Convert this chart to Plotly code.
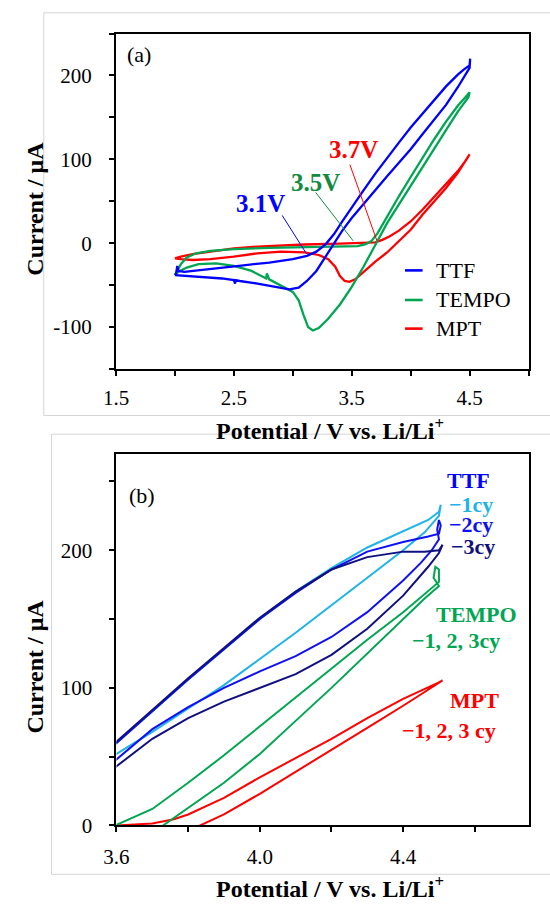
import plotly.graph_objects as go

W, H = 550, 910
FONT = "Liberation Serif"


def px(x):
    return x / W


def py(y):
    return 1 - y / H


# ---------------- Panel (a) data: potential (V) / current (uA) ----------------
ttf_a_v = [2.00, 2.10, 2.25, 2.40, 2.50, 2.51, 2.515, 2.55, 2.70, 2.85, 2.97, 3.05, 3.12, 3.20, 3.28, 3.35,
           3.42, 3.50, 3.60, 3.70, 3.80, 3.90, 4.00, 4.10, 4.20, 4.30, 4.40, 4.47, 4.50, 4.505, 4.50,
           4.45, 4.40, 4.30, 4.20, 4.10, 4.00, 3.90, 3.80, 3.70, 3.60, 3.50, 3.42, 3.35, 3.28, 3.20,
           3.12, 3.00, 2.80, 2.60, 2.40, 2.20, 2.08, 2.03, 2.02, 2.01, 2.00]
ttf_a_i = [-38, -39, -40, -42, -44, -48, -44, -45, -48, -52, -55, -53, -45, -33, -16, 0,
           15, 30, 47, 63, 80, 96, 112, 130, 148, 165, 186, 203, 209, 220, 212,
           207, 201, 187, 171, 155, 138, 120, 102, 83, 63, 43, 26, 11, -1, -10,
           -15, -19, -23, -26, -29, -32, -34, -33, -27, -36, -38]

tempo_a_v = [2.00, 2.05, 2.10, 2.18, 2.30, 2.50, 2.80, 3.10, 3.40, 3.55, 3.62, 3.67, 3.72, 3.80, 3.90,
             4.00, 4.10, 4.20, 4.30, 4.40, 4.47, 4.50, 4.49, 4.40, 4.30, 4.20, 4.10, 4.00, 3.90, 3.80,
             3.70, 3.60, 3.50, 3.40, 3.30, 3.22, 3.17, 3.13, 3.09, 3.05, 3.00, 2.92, 2.80, 2.78, 2.775,
             2.65, 2.50, 2.35, 2.20, 2.10, 2.03, 2.00]
tempo_a_i = [-38, -25, -17, -12, -9, -7, -5.5, -4.5, -4, -3.5, -1, 3, 12, 32, 56,
             79, 102, 124, 145, 164, 175, 180, 174, 157, 135, 113, 91, 69, 47, 24,
             -2, -28, -52, -73, -90, -101, -104, -100, -85, -68, -58, -52, -43, -36, -42,
             -33, -27, -24, -25, -29, -34, -38]

mpt_a_v = [2.00, 2.05, 2.15, 2.30, 2.50, 2.70, 2.90, 3.10, 3.40, 3.60, 3.70, 3.76, 3.82, 3.90, 4.00,
           4.10, 4.20, 4.30, 4.40, 4.47, 4.50, 4.48, 4.40, 4.30, 4.20, 4.10, 4.00, 3.90, 3.80, 3.70,
           3.60, 3.53, 3.48, 3.44, 3.40, 3.36, 3.30, 3.22, 3.10, 2.90, 2.70, 2.50, 2.30, 2.15, 2.05, 2.00]
mpt_a_i = [-18, -16, -13, -10, -6, -4, -2.5, -1.5, -0.5, 0, 1, 4, 8, 15, 26,
           40, 55, 70, 86, 99, 106, 101, 84, 66, 50, 34, 16, 2, -11, -22,
           -34, -43, -46, -45, -39, -28, -19, -14, -11, -10, -12, -16, -19, -20, -19, -18]

# ---------------- Panel (b) data ----------------
ttf1_b_v = [3.58, 3.60, 3.70, 3.80, 3.90, 4.00, 4.10, 4.20, 4.30, 4.40, 4.47, 4.50, 4.505, 4.50,
            4.49, 4.46, 4.40, 4.30, 4.20, 4.10, 4.00, 3.90, 3.80, 3.70, 3.60, 3.58]
ttf1_b_i = [55, 60, 83, 106, 128, 150, 170, 187, 202, 214, 222, 228, 233, 225,
            222, 213, 200, 180, 160, 140, 121, 102, 85, 68, 52, 49]

ttf2_b_v = [3.58, 3.60, 3.70, 3.80, 3.90, 4.00, 4.10, 4.20, 4.30, 4.40, 4.47, 4.50, 4.505, 4.50, 4.495,
            4.50, 4.48, 4.45, 4.40, 4.30, 4.20, 4.10, 4.00, 3.90, 3.80, 3.70, 3.60, 3.58]
ttf2_b_i = [55, 60, 83, 106, 128, 150, 169, 186, 199, 206, 210, 212, 218, 222, 215,
            208, 200, 191, 178, 155, 137, 123, 112, 100, 86, 70, 48, 44]

ttf3_b_v = [3.58, 3.60, 3.70, 3.80, 3.90, 4.00, 4.10, 4.20, 4.30, 4.40, 4.46, 4.50, 4.51,
            4.50, 4.47, 4.40, 4.30, 4.20, 4.10, 4.00, 3.90, 3.80, 3.70, 3.60, 3.58]
ttf3_b_i = [56, 61, 84, 107, 129, 151, 170, 186, 195, 199, 199, 200, 204,
            198, 188, 167, 143, 124, 110, 100, 90, 78, 63, 43, 39]

tempo_b_v = [3.58, 3.60, 3.70, 3.80, 3.90, 4.00, 4.10, 4.20, 4.30, 4.40, 4.46, 4.50, 4.50, 4.49, 4.485,
             4.50, 4.46, 4.40, 4.30, 4.20, 4.10, 4.00, 3.90, 3.80, 3.73, 3.70]
tempo_b_i = [-3, 0.5, 12, 31, 51, 72, 93, 114, 135, 155, 168, 177, 186, 188, 180,
             174, 165, 150, 125, 100, 76, 52, 31, 13, 0, -7]

mpt_b_v = [3.58, 3.60, 3.70, 3.76, 3.80, 3.90, 4.00, 4.10, 4.20, 4.30, 4.40, 4.50, 4.51,
           4.46, 4.40, 4.30, 4.20, 4.10, 4.00, 3.90, 3.83, 3.80]
mpt_b_i = [0, 0, 1.5, 4.5, 8, 20, 35, 49, 63, 78, 92, 104, 105.5,
           97, 87, 71, 55, 39, 23, 8, 0, -4]

# colours
BLUE, GREEN, RED = "#0000FF", "#00A651", "#FF0000"
CYAN, BLUE2, NAVY = "#1FB3EA", "#1010F5", "#101080"
DKGREEN = "#138A3E"

fig = go.Figure()

for v, i, c in [(mpt_a_v, mpt_a_i, RED), (tempo_a_v, tempo_a_i, GREEN), (ttf_a_v, ttf_a_i, BLUE)]:
    fig.add_trace(go.Scatter(x=v, y=i, mode="lines", line=dict(color=c, width=2.3),
                             xaxis="x", yaxis="y", showlegend=False))

for v, i, c in [(mpt_b_v, mpt_b_i, RED), (tempo_b_v, tempo_b_i, GREEN), (ttf1_b_v, ttf1_b_i, CYAN),
                (ttf2_b_v, ttf2_b_i, BLUE2), (ttf3_b_v, ttf3_b_i, NAVY)]:
    fig.add_trace(go.Scatter(x=v, y=i, mode="lines", line=dict(color=c, width=2),
                             xaxis="x2", yaxis="y2", showlegend=False))

tickfont = dict(family=FONT, size=21, color="black")
common = dict(showline=True, linewidth=2, linecolor="black", mirror=True, ticks="outside",
              ticklen=5, tickwidth=1.5, tickcolor="black", showgrid=False, zeroline=False,
              tickfont=tickfont, fixedrange=True)
minor_common = dict(ticks="outside", ticklen=5, tickwidth=1.5, tickcolor="black", showgrid=False)

fig.update_layout(
    width=W, height=H, margin=dict(l=0, r=0, t=0, b=0),
    paper_bgcolor="white", plot_bgcolor="white",
    xaxis=dict(domain=[px(105.5), px(528)], range=[1.5, 5.0], anchor="y",
               tickvals=[1.5, 2.5, 3.5, 4.5], ticktext=["1.5", "2.5", "3.5", "4.5"],
               ticklabelstandoff=4,
               minor=dict(tickvals=[2.0, 3.0, 4.0, 5.0], **minor_common), **common),
    yaxis=dict(domain=[py(374), py(34)], range=[-150, 250], anchor="x",
               tickvals=[-100, 0, 100, 200], ticktext=["-100", "0", "100", "200"],
               ticklabelstandoff=13,
               minor=dict(tickvals=[-150, -50, 50, 150, 250], **minor_common), **common),
    xaxis2=dict(domain=[px(106), px(528)], range=[3.6, 4.75], anchor="y2",
                tickvals=[3.6, 4.0, 4.4], ticktext=["3.6", "4.0", "4.4"],
                ticklabelstandoff=6,
                minor=dict(tickvals=[3.8, 4.2, 4.6], **minor_common), **common),
    yaxis2=dict(domain=[py(836.5), py(460)], range=[0, 270], anchor="x2",
                tickvals=[0, 100, 200], ticktext=["0", "100", "200"],
                ticklabelstandoff=13,
                minor=dict(tickvals=[50, 150, 250], **minor_common), **common),
)

shapes = []
# light frames around panels
shapes.append(dict(type="rect", xref="paper", yref="paper", x0=px(31.5), x1=px(560), y0=py(421), y1=py(13),
                   line=dict(color="#D4D4D4", width=1), fillcolor="rgba(0,0,0,0)", layer="below"))
shapes.append(dict(type="rect", xref="paper", yref="paper", x0=px(39.5), x1=px(560), y0=py(886), y1=py(440),
                   line=dict(color="#D4D4D4", width=1), fillcolor="rgba(0,0,0,0)", layer="below"))
# leader lines for peak labels (a)
for (x0, y0, x1, y1, c) in [(2.910, 33.2, 3.117, -12.7, BLUE), (3.194, 60.6, 3.512, 2.9, DKGREEN),
                            (3.484, 93.9, 3.714, 2.9, RED)]:
    shapes.append(dict(type="line", xref="x", yref="y", x0=x0, y0=y0, x1=x1, y1=y1,
                       line=dict(color=c, width=1)))
# legend swatches (a)
for yy, c in [(274, BLUE), (304, GREEN), (333, RED)]:
    shapes.append(dict(type="line", xref="paper", yref="paper", x0=px(401.5), x1=px(419.5),
                       y0=py(yy), y1=py(yy), line=dict(color=c, width=2.6)))
fig.update_layout(shapes=shapes)

ann = []


def A(text, x, y, size, color="black", bold=False, xanchor="center", xref="paper", yref="paper", angle=0):
    t = f"<b>{text}</b>" if bold else text
    ann.append(dict(text=t, x=x, y=y, xref=xref, yref=yref, xanchor=xanchor, yanchor="middle",
                    showarrow=False, textangle=angle, font=dict(family=FONT, size=size, color=color)))


# panel labels
A("(a)", px(129), py(55), 22)
A("(b)", px(132.5), py(502), 22)
# axis titles
A("Current / μA", px(23), py(211), 24, bold=True, angle=-90)
A("Current / μA", px(23), py(675), 24, bold=True, angle=-90)
A("Potential / V vs. Li/Li<sup>+</sup>", px(325), py(435), 24, bold=True)
A("Potential / V vs. Li/Li<sup>+</sup>", px(325), py(899), 24, bold=True)
# peak labels (a)
A("3.1V", 2.722, 46.8, 25, BLUE, True, xref="x", yref="y")
A("3.5V", 3.190, 72.4, 25, DKGREEN, True, xref="x", yref="y")
A("3.7V", 3.517, 111.5, 25, RED, True, xref="x", yref="y")
# legend text (a)
A("TTF", px(431), py(274), 22, xanchor="left")
A("TEMPO", px(431), py(304), 22, xanchor="left")
A("MPT", px(431), py(333), 22, xanchor="left")
# legend text (b)
A("TTF", px(467), py(487), 22, BLUE, True)
A("−1cy", px(444), py(511), 22, CYAN, True, xanchor="left")
A("−2cy", px(445), py(532), 22, BLUE2, True, xanchor="left")
A("−3cy", px(447), py(554), 22, NAVY, True, xanchor="left")
A("TEMPO", px(474.5), py(623), 22, GREEN, True)
A("−1, 2, 3cy", px(407), py(649), 22, GREEN, True, xanchor="left")
A("MPT", px(473), py(710), 22, RED, True)
A("−1, 2, 3 cy", px(396), py(740), 22, RED, True, xanchor="left")
fig.update_layout(annotations=ann)

fig.write_html("out.html")
